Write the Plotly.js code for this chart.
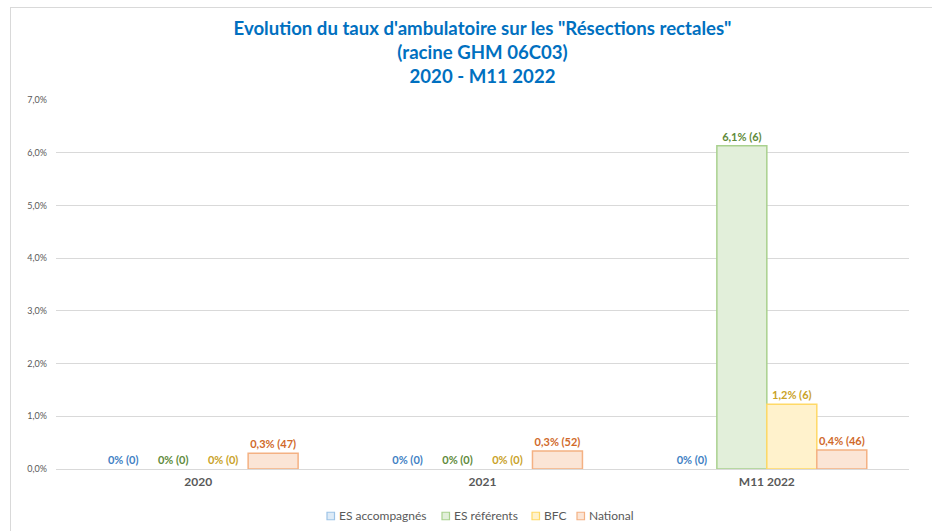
<!DOCTYPE html>
<html>
<head>
<meta charset="utf-8">
<script src="https://cdn.plot.ly/plotly-3.0.1.min.js"></script>
<style>
  html, body { margin: 0; padding: 0; background: #fff; }
  #frame { position: absolute; left: 10px; top: 7px; width: 922px; height: 524px;
           border-left: 1px solid #d9d9d9; border-top: 1px solid #d9d9d9; }
  #chart { width: 921px; height: 523px; }
</style>
</head>
<body>
<div id="frame"><div id="chart"></div></div>
<script>
const categories = ['2020', '2021', 'M11 2022'];
const seriesNames = ['ES accompagnés', 'ES référents', 'BFC', 'National'];

const esAccompagnesRate = [0, 0, 0];
const esReferentsRate   = [0, 0, 0.0613];
const bfcRate           = [0, 0, 0.0123];
const nationalRate      = [0.0030, 0.0034, 0.0036];

const esAccompagnesCount = [0, 0, 0];
const esReferentsCount   = [0, 0, 6];
const bfcCount           = [0, 0, 6];
const nationalCount      = [47, 52, 46];

const esAccompagnesLabel = ['0%', '0%', '0%'];
const esReferentsLabel   = ['0%', '0%', '6,1%'];
const bfcLabel           = ['0%', '0%', '1,2%'];
const nationalLabel      = ['0,3%', '0,3%', '0,4%'];

const yTickVals  = [0, 0.01, 0.02, 0.03, 0.04, 0.05, 0.06, 0.07];
const yTickTexts = ['0,0%', '1,0%', '2,0%', '3,0%', '4,0%', '5,0%', '6,0%', '7,0%'];

const styles = [
  { fill: '#DEEBF7', line: '#9DC3E6', text: '#3F7FC4' },
  { fill: '#E2EFDA', line: '#A9D18E', text: '#5E8A3A' },
  { fill: '#FFF2CC', line: '#FFD966', text: '#C9A227' },
  { fill: '#FBE5D6', line: '#F4B183', text: '#D0692A' }
];

const rates  = [esAccompagnesRate, esReferentsRate, bfcRate, nationalRate];
const counts = [esAccompagnesCount, esReferentsCount, bfcCount, nationalCount];
const labels = [esAccompagnesLabel, esReferentsLabel, bfcLabel, nationalLabel];

const traces = rates.map((r, i) => ({
  type: 'bar',
  name: seriesNames[i],
  x: categories,
  y: r,
  text: labels[i].map((l, j) => l + ' (' + counts[i][j] + ')'),
  textposition: 'outside',
  cliponaxis: false,
  constraintext: 'none',
  textfont: { family: 'Lato, sans-serif', size: 11, color: styles[i].text, weight: 'bold' },
  marker: {
    color: styles[i].fill,
    line: { color: styles[i].line, width: r.map(v => (v > 0 ? 1.5 : 0)) }
  },
  hoverinfo: 'skip',
  showlegend: false
}));

// Manual legend (compact, Excel-like)
const plotL = 56, plotW = 853, plotB = 469, plotH = 369; // page px of plot area
const legendMarkerLeft = [327, 442, 532, 577];
const legendY = 516;
const legendShapes = [], legendAnnotations = [];
seriesNames.forEach((name, i) => {
  const xp = (legendMarkerLeft[i] + 3.75 - plotL) / plotW;
  const yp = (plotB - legendY) / plotH;
  legendShapes.push({
    type: 'rect', xref: 'paper', yref: 'paper',
    xsizemode: 'pixel', ysizemode: 'pixel', xanchor: xp, yanchor: yp,
    x0: -3.75, x1: 3.75, y0: -3.75, y1: 3.75,
    fillcolor: styles[i].fill, line: { color: styles[i].line, width: 1.2 }
  });
  legendAnnotations.push({
    xref: 'paper', yref: 'paper', x: xp, y: yp, xshift: 6, showarrow: false,
    xanchor: 'left', yanchor: 'middle', text: name,
    font: { family: 'Lato, sans-serif', size: 12, color: '#595959' }
  });
});

const layout = {
  width: 921, height: 523,
  margin: { l: 45, r: 23, t: 92, b: 62 },
  paper_bgcolor: '#fff', plot_bgcolor: '#fff',
  separators: ',.',
  barmode: 'group',
  bargap: 0.297,
  bargroupgap: 0,
  font: { family: 'Lato, sans-serif', color: '#595959' },
  title: {
    text: '<b>Evolution du taux d\'ambulatoire sur les "Résections rectales"<br>(racine GHM 06C03)<br>2020 - M11 2022</b>',
    font: { family: 'Lato, sans-serif', size: 18.6, color: '#0070C0' },
    x: 0.5, xref: 'paper', xanchor: 'center',
    y: 0.949, yref: 'container', yanchor: 'top'
  },
  xaxis: {
    type: 'category',
    tickfont: { family: 'Lato, sans-serif', size: 12, color: '#595959', weight: 'bold' },
    showline: false, showgrid: false, ticks: '', ticklabelstandoff: 4
  },
  yaxis: {
    range: [0, 0.07],
    tickvals: yTickVals, ticktext: yTickTexts,
    tickfont: { family: 'Lato, sans-serif', size: 9, color: '#595959' },
    showgrid: true, gridcolor: '#d9d9d9', gridwidth: 1,
    zeroline: true, zerolinecolor: '#d9d9d9', zerolinewidth: 1,
    showline: false, ticks: '', ticklabelstandoff: 8
  },
  showlegend: false,
  shapes: legendShapes,
  annotations: legendAnnotations
};

Plotly.newPlot('chart', traces, layout, { displayModeBar: false, staticPlot: true });
</script>
</body>
</html>
